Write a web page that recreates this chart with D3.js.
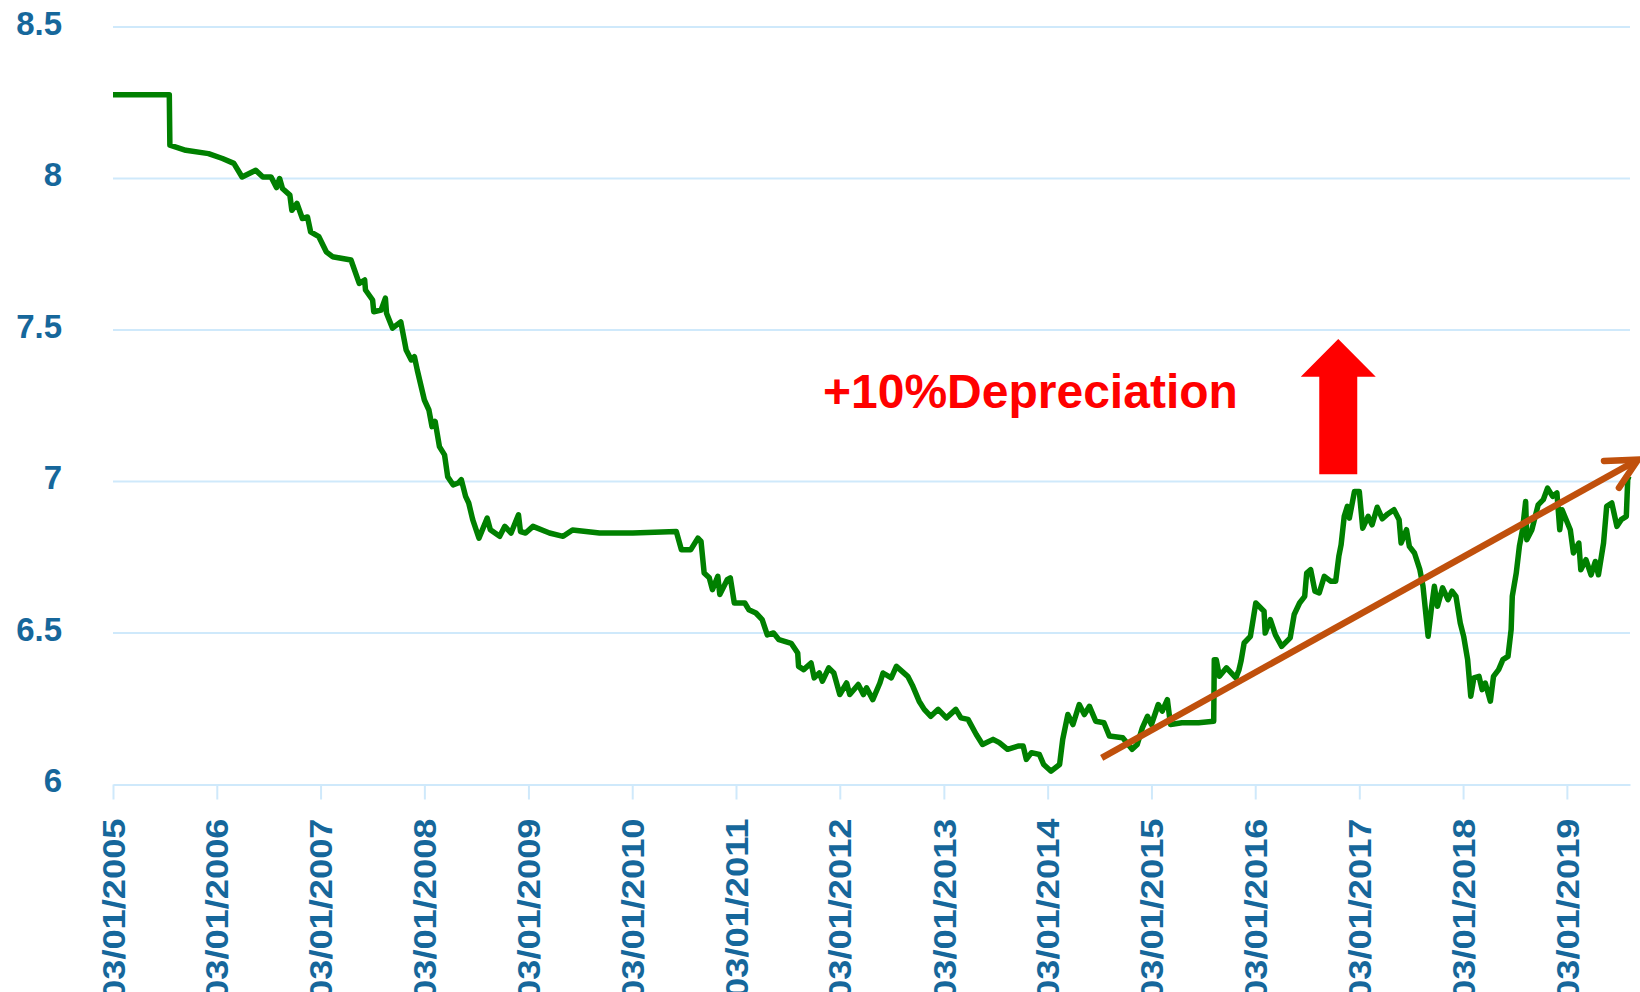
<!DOCTYPE html>
<html>
<head>
<meta charset="utf-8">
<script src="https://cdn.jsdelivr.net/npm/d3@7"></script>
<style>
  body { margin: 0; background: #fff; }
  svg text { font-family: "Liberation Sans", Arial, sans-serif; font-weight: bold; }
</style>
</head>
<body>
<div id="chart"></div>
<script>
// USD/CNY (date, rate)
var usdCny = [
  ["2005-01-03",8.2765],["2005-07-20",8.2765],["2005-07-22",8.110],["2005-09-16",8.093],
  ["2005-12-05",8.082],["2006-01-23",8.066],["2006-03-04",8.050],["2006-04-02",8.005],
  ["2006-05-20",8.027],["2006-06-14",8.005],["2006-07-13",8.005],["2006-08-01",7.970],
  ["2006-08-12",8.000],["2006-08-22",7.967],["2006-09-17",7.945],["2006-09-24",7.895],
  ["2006-10-12",7.918],["2006-10-31",7.868],["2006-11-18",7.873],["2006-11-29",7.824],
  ["2006-12-28",7.808],["2007-01-23",7.758],["2007-02-14",7.742],["2007-04-20",7.731],
  ["2007-05-19",7.654],["2007-06-07",7.665],["2007-06-10",7.632],["2007-07-05",7.599],
  ["2007-07-09",7.560],["2007-08-04",7.566],["2007-08-19",7.605],["2007-08-23",7.555],
  ["2007-09-13",7.506],["2007-10-12",7.527],["2007-10-31",7.434],["2007-11-18",7.401],
  ["2007-11-29",7.412],["2007-12-09",7.368],["2008-01-03",7.269],["2008-01-19",7.236],
  ["2008-01-30",7.181],["2008-02-10",7.198],["2008-02-25",7.115],["2008-03-14",7.088],
  ["2008-03-25",7.016],["2008-04-13",6.989],["2008-05-01",6.995],["2008-05-12",7.006],
  ["2008-05-27",6.951],["2008-06-07",6.929],["2008-06-21",6.874],["2008-07-13",6.813],
  ["2008-08-11",6.879],["2008-08-22",6.841],["2008-09-24",6.819],["2008-10-12",6.852],
  ["2008-11-03",6.830],["2008-11-29",6.890],["2008-12-06",6.835],["2008-12-24",6.830],
  ["2009-01-19",6.852],["2009-03-18",6.830],["2009-05-05",6.819],["2009-06-07",6.840],
  ["2009-09-10",6.830],["2010-01-05",6.830],["2010-06-07",6.835],["2010-06-25",6.775],
  ["2010-07-28",6.775],["2010-08-22",6.813],["2010-09-02",6.802],["2010-09-13",6.698],
  ["2010-10-01",6.682],["2010-10-12",6.643],["2010-10-31",6.687],["2010-11-07",6.627],
  ["2010-12-03",6.676],["2010-12-14",6.682],["2010-12-28",6.599],["2011-02-03",6.599],
  ["2011-02-17",6.577],["2011-03-14",6.566],["2011-04-05",6.544],["2011-04-23",6.494],
  ["2011-05-15",6.500],["2011-06-03",6.478],["2011-07-16",6.466],["2011-08-08",6.434],
  ["2011-08-11",6.390],["2011-08-29",6.379],["2011-09-24",6.401],["2011-10-05",6.352],
  ["2011-10-23",6.368],["2011-11-03",6.341],["2011-11-25",6.385],["2011-12-13",6.368],
  ["2012-01-03",6.297],["2012-01-27",6.335],["2012-02-07",6.297],["2012-03-08",6.330],
  ["2012-03-26",6.297],["2012-04-06",6.319],["2012-04-28",6.280],["2012-05-23",6.335],
  ["2012-06-03",6.368],["2012-07-02",6.352],["2012-07-20",6.390],["2012-08-29",6.357],
  ["2012-09-16",6.324],["2012-10-08",6.275],["2012-10-26",6.248],["2012-11-18",6.225],
  ["2012-12-14",6.248],["2013-01-12",6.220],["2013-02-14",6.248],["2013-03-04",6.220],
  ["2013-03-29",6.215],["2013-04-27",6.165],["2013-05-19",6.132],["2013-06-25",6.149],
  ["2013-07-17",6.138],["2013-08-15",6.116],["2013-09-21",6.127],["2013-10-09",6.127],
  ["2013-10-20",6.083],["2013-11-07",6.105],["2013-12-05",6.099],["2013-12-20",6.066],
  ["2014-01-15",6.044],["2014-02-14",6.066],["2014-02-25",6.149],["2014-03-15",6.231],
  ["2014-04-02",6.198],["2014-04-24",6.264],["2014-05-12",6.231],["2014-05-30",6.258],
  ["2014-06-21",6.209],["2014-07-20",6.204],["2014-08-08",6.160],["2014-09-24",6.154],
  ["2014-10-27",6.116],["2014-11-14",6.132],["2014-12-02",6.187],["2014-12-20",6.225],
  ["2015-01-03",6.198],["2015-01-27",6.264],["2015-02-10",6.242],["2015-02-28",6.280],
  ["2015-03-11",6.198],["2015-04-20",6.204],["2015-06-18",6.204],["2015-08-10",6.209],
  ["2015-08-12",6.412],["2015-08-19",6.412],["2015-08-30",6.357],["2015-09-24",6.385],
  ["2015-10-27",6.352],["2015-11-07",6.379],["2015-11-14",6.407],["2015-11-25",6.467],
  ["2015-12-17",6.489],["2016-01-05",6.599],["2016-02-03",6.572],["2016-02-07",6.500],
  ["2016-02-25",6.544],["2016-03-14",6.494],["2016-04-05",6.456],["2016-05-05",6.484],
  ["2016-05-19",6.561],["2016-06-07",6.599],["2016-06-25",6.621],["2016-07-02",6.698],
  ["2016-07-16",6.709],["2016-07-31",6.638],["2016-08-15",6.632],["2016-09-02",6.687],
  ["2016-09-24",6.671],["2016-10-12",6.671],["2016-10-23",6.753],["2016-10-31",6.791],
  ["2016-11-11",6.885],["2016-11-22",6.918],["2016-11-29",6.879],["2016-12-17",6.967],
  ["2017-01-03",6.967],["2017-01-15",6.846],["2017-02-03",6.885],["2017-02-17",6.857],
  ["2017-03-07",6.915],["2017-03-25",6.877],["2017-04-13",6.893],["2017-05-05",6.907],
  ["2017-05-23",6.874],["2017-05-30",6.797],["2017-06-18",6.841],["2017-06-28",6.786],
  ["2017-07-16",6.764],["2017-08-04",6.709],["2017-08-15",6.654],["2017-09-02",6.489],
  ["2017-09-13",6.577],["2017-09-24",6.654],["2017-10-05",6.588],["2017-10-23",6.649],
  ["2017-11-11",6.610],["2017-11-25",6.638],["2017-12-09",6.621],["2017-12-24",6.533],
  ["2018-01-05",6.489],["2018-01-19",6.412],["2018-01-30",6.291],["2018-02-10",6.352],
  ["2018-02-28",6.357],["2018-03-11",6.313],["2018-03-22",6.335],["2018-04-09",6.275],
  ["2018-04-20",6.357],["2018-05-08",6.379],["2018-05-23",6.412],["2018-06-10",6.423],
  ["2018-06-21",6.511],["2018-06-25",6.621],["2018-07-09",6.698],["2018-07-20",6.786],
  ["2018-07-31",6.841],["2018-08-11",6.934],["2018-08-15",6.808],["2018-09-02",6.841],
  ["2018-09-24",6.923],["2018-10-12",6.940],["2018-10-27",6.978],["2018-11-14",6.951],
  ["2018-11-29",6.962],["2018-12-09",6.841],["2018-12-17",6.907],["2019-01-15",6.841],
  ["2019-01-26",6.764],["2019-02-14",6.797],["2019-02-21",6.709],["2019-03-11",6.742],
  ["2019-03-29",6.692],["2019-04-13",6.736],["2019-04-24",6.692],["2019-05-12",6.797],
  ["2019-05-23",6.918],["2019-06-10",6.929],["2019-06-28",6.852],["2019-07-13",6.874],
  ["2019-07-31",6.885],["2019-08-05",7.006],["2019-08-09",7.017]
];

var xTickYears = [2005,2006,2007,2008,2009,2010,2011,2012,2013,2014,2015,2016,2017,2018,2019];
var yTicks = [6, 6.5, 7, 7.5, 8, 8.5];

// annotations (date, rate)
var trendArrow = [["2014-07-12", 6.088], ["2019-09-10", 7.072]];
var upArrow = { date: "2016-10-21", tip: 7.47, neck: 7.346, base: 7.024 };
var noteText = { date: "2011-11-05", rate: 7.242, label: "+10%Depreciation" };

var width = 1640, height = 992;
var blue = "#16679b", grid = "#cfe9fb";

var parse = d3.timeParse("%Y-%m-%d");
var data = usdCny.map(function(d){ return { date: parse(d[0]), v: d[1] }; });

var svg = d3.select("#chart").append("svg")
  .attr("width", width)
  .attr("height", height);

svg.append("rect").attr("width", width).attr("height", height).attr("fill", "#fff");

var x = d3.scaleTime()
  .domain([new Date(2005,0,3), new Date(2019,7,13)])
  .range([113, 1630]);

var y = d3.scaleLinear()
  .domain([6, 8.5])
  .range([784.5, 27]);

// horizontal gridlines
svg.append("g").selectAll("line")
  .data(yTicks.slice(1))
  .enter().append("line")
  .attr("x1", x.range()[0]).attr("x2", x.range()[1])
  .attr("y1", function(d){ return y(d); })
  .attr("y2", function(d){ return y(d); })
  .attr("stroke", grid).attr("stroke-width", 2);

// x axis
var xAxis = d3.axisBottom(x)
  .tickValues(xTickYears.map(function(yr){ return new Date(yr,0,3); }))
  .tickFormat(d3.timeFormat("%d/%m/%Y"))
  .tickSizeInner(15).tickSizeOuter(0);

var gx = svg.append("g")
  .attr("transform", "translate(0," + y(6) + ")")
  .call(xAxis);
gx.select(".domain").attr("stroke", grid).attr("stroke-width", 2);
gx.selectAll(".tick line").attr("stroke", grid).attr("stroke-width", 2);
// labels are drawn stretched along their length, as in the source image
gx.selectAll(".tick text")
  .attr("fill", blue)
  .attr("font-size", 31)
  .attr("text-anchor", "end")
  .attr("x", 0).attr("y", 0)
  .attr("dy", "0.36em")
  .attr("transform", "translate(0,34) rotate(-90) scale(1.17,1)");

// y labels
var yAxis = d3.axisLeft(y).tickValues(yTicks).tickSize(0).tickPadding(51)
  .tickFormat(function(d){ return d; });
var gy = svg.append("g").attr("transform", "translate(113,0)").call(yAxis);
gy.select(".domain").remove();
gy.selectAll(".tick text")
  .attr("fill", blue)
  .attr("font-size", 33)
  .attr("dy", "0.22em");

// the rate line
var line = d3.line()
  .x(function(d){ return x(d.date); })
  .y(function(d){ return y(d.v); });

svg.append("path")
  .datum(data)
  .attr("fill", "none")
  .attr("stroke", "#008000")
  .attr("stroke-width", 5.5)
  .attr("stroke-linejoin", "round")
  .attr("d", line);

// trend arrow
var p0 = [x(parse(trendArrow[0][0])), y(trendArrow[0][1])],
    p1 = [x(parse(trendArrow[1][0])), y(trendArrow[1][1])];
var ang = Math.atan2(p1[1] - p0[1], p1[0] - p0[0]),
    headLen = 34, spread = 0.47;
var a1 = [p1[0] - headLen * Math.cos(ang - spread), p1[1] - headLen * Math.sin(ang - spread)],
    a2 = [p1[0] - headLen * Math.cos(ang + spread), p1[1] - headLen * Math.sin(ang + spread)];

svg.append("line")
  .attr("x1", p0[0]).attr("y1", p0[1])
  .attr("x2", p1[0] - 3 * Math.cos(ang)).attr("y2", p1[1] - 3 * Math.sin(ang))
  .attr("stroke", "#c0500c").attr("stroke-width", 6.5);
svg.append("path")
  .attr("d", "M" + a1 + "L" + p1 + "L" + a2)
  .attr("fill", "none")
  .attr("stroke", "#c0500c").attr("stroke-width", 6.5)
  .attr("stroke-linecap", "round").attr("stroke-linejoin", "miter");

// red block arrow
var cx = x(parse(upArrow.date)), headHalf = 37.5, shaftHalf = 19;
var arrowPts = [
  [cx, y(upArrow.tip)],
  [cx + headHalf, y(upArrow.neck)],
  [cx + shaftHalf, y(upArrow.neck)],
  [cx + shaftHalf, y(upArrow.base)],
  [cx - shaftHalf, y(upArrow.base)],
  [cx - shaftHalf, y(upArrow.neck)],
  [cx - headHalf, y(upArrow.neck)]
];
svg.append("polygon")
  .attr("points", arrowPts.map(function(p){ return p.join(","); }).join(" "))
  .attr("fill", "#ff0000");

svg.append("text")
  .attr("x", x(parse(noteText.date)))
  .attr("y", y(noteText.rate))
  .attr("fill", "#ff0000")
  .attr("font-size", 48)
  .text(noteText.label);
</script>
</body>
</html>
